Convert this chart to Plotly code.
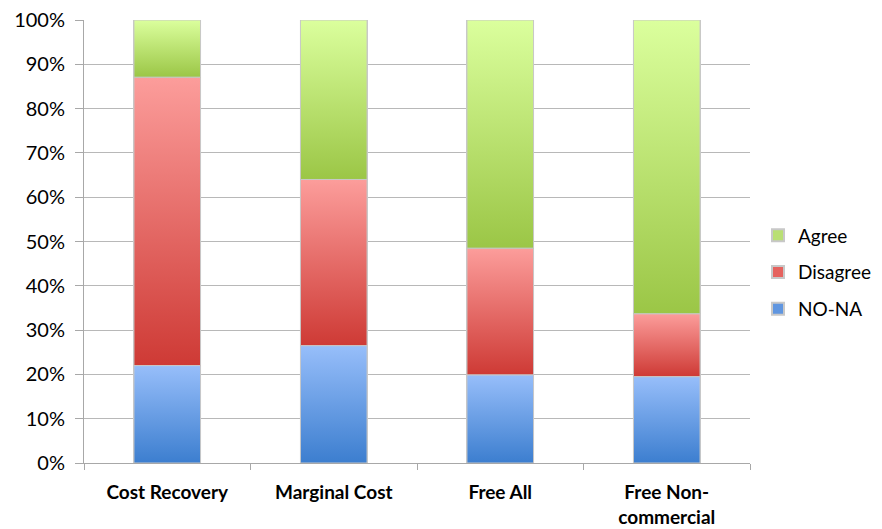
import plotly.graph_objects as go

categories = ["Cost Recovery", "Marginal Cost", "Free All", "Free Non-<br>commercial"]
no_na = [22.0, 26.5, 19.9, 19.5]
disagree = [65.1, 37.5, 28.6, 14.2]
agree = [12.9, 36.0, 51.5, 66.3]
y_ticks = [0, 10, 20, 30, 40, 50, 60, 70, 80, 90, 100]
y_tick_labels = [f"{v}%" for v in y_ticks]

# (name, values, legend colour, gradient bottom, gradient top, legend rank)
series = [
    ("NO-NA", no_na, "#6096e0", "#3c7ecf", "#97befa", 3),
    ("Disagree", disagree, "#e5625e", "#ce3a35", "#fc9d9b", 2),
    ("Agree", agree, "#b9df74", "#9bc646", "#dbff9d", 1),
]
BAR_W = 0.4

fig = go.Figure()
for name, vals, color, c0, c1, rank in series:
    fig.add_trace(go.Bar(
        x=categories, y=vals, name=name, legendgroup=name, legendrank=rank,
        marker=dict(color=color, line=dict(color="#c8c8c8", width=1)),
        width=BAR_W,
    ))

# vertical gradient overlay for each stacked segment (positions derived from the data),
# drawn on a hidden linear x axis that shares the category axis positions
base = [0.0] * len(categories)
for name, vals, color, c0, c1, rank in series:
    for i, v in enumerate(vals):
        b, t = base[i], base[i] + v
        fig.add_trace(go.Scatter(
            x=[i - BAR_W / 2, i + BAR_W / 2, i + BAR_W / 2, i - BAR_W / 2, i - BAR_W / 2],
            y=[b, b, t, t, b],
            xaxis="x2",
            mode="lines", fill="toself",
            line=dict(color="#c8c8c8", width=1),
            fillgradient=dict(type="vertical", colorscale=[[0, c0], [1, c1]]),
            showlegend=False, hoverinfo="skip",
        ))
        base[i] = t

fig.update_layout(
    barmode="stack",
    width=882, height=529,
    margin=dict(l=84, r=132, t=20, b=66, autoexpand=False),
    paper_bgcolor="white", plot_bgcolor="white",
    font=dict(family="Lato, Carlito, Calibri, sans-serif", size=19, color="#000000"),
    legend=dict(
        x=1.012, y=0.43, xanchor="left", yanchor="middle",
        traceorder="grouped", font=dict(size=19),
        itemwidth=30, tracegroupgap=9, itemsizing="constant",
    ),
    showlegend=True,
    xaxis2=dict(overlaying="x", range=[-0.5, len(categories) - 0.5],
                visible=False, type="linear"),
)
fig.update_yaxes(
    range=[0, 100], tickvals=y_ticks, ticktext=y_tick_labels,
    showgrid=True, gridcolor="#b8b8b8", gridwidth=1,
    showline=True, linecolor="#a8a8a8", linewidth=1,
    ticks="outside", ticklen=8, tickcolor="#a8a8a8",
    zeroline=False, ticklabelstandoff=6, automargin=False,
    tickfont=dict(size=20),
)
fig.update_layout(xaxis=dict(
    type="category", tickson="boundaries",
    range=[-0.5, len(categories) - 0.5],
    showline=True, linecolor="#a8a8a8", linewidth=1,
    ticks="outside", ticklen=6, tickcolor="#a8a8a8",
    tickfont=dict(size=19, family="Lato, sans-serif", weight="bold"),
    showgrid=False, ticklabelstandoff=12, automargin=False,
))

fig.write_html("out.html")
